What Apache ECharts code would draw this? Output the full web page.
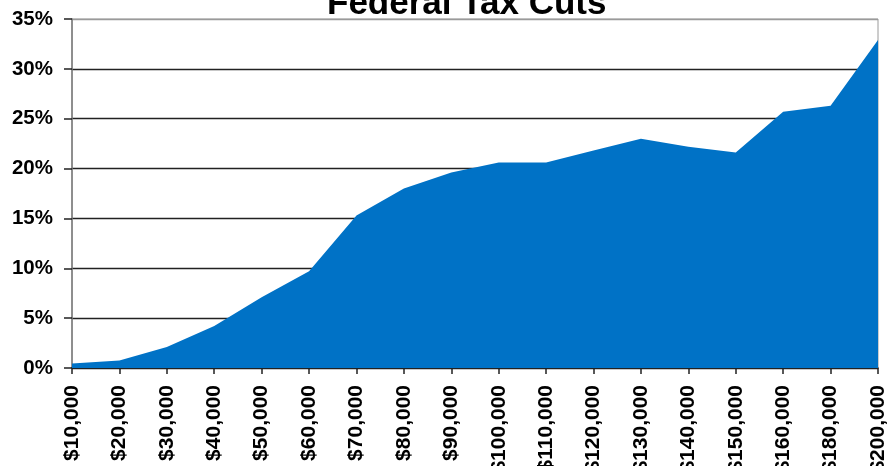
<!DOCTYPE html>
<html>
<head>
<meta charset="utf-8">
<script src="https://cdn.jsdelivr.net/npm/echarts@6/dist/echarts.min.js"></script>
<style>
  html, body { margin: 0; padding: 0; background: #fff; }
  #chart { width: 887px; height: 466px; }
</style>
</head>
<body>
<div id="chart"></div>
<script>
// Income brackets and the share of the federal tax cut going to each
const incomeLabels = ['$10,000', '$20,000', '$30,000', '$40,000', '$50,000', '$60,000',
  '$70,000', '$80,000', '$90,000', '$100,000', '$110,000', '$120,000', '$130,000',
  '$140,000', '$150,000', '$160,000', '$180,000', '$200,000'];
const taxCutPct = [0.45, 0.75, 2.1, 4.2, 7.1, 9.7, 15.3, 18.0, 19.6, 20.6, 20.6,
  21.8, 23.0, 22.2, 21.6, 25.7, 26.3, 32.9];
const pctTicks = { min: 0, max: 35, step: 5 };

const FONT = '"Liberation Sans", Arial, sans-serif';
const chart = echarts.init(document.getElementById('chart'), null, { renderer: 'canvas' });

chart.setOption({
  animation: false,
  backgroundColor: '#ffffff',
  title: {
    text: 'Federal Tax Cuts',
    left: 327,
    top: -13,
    padding: 0,
    textStyle: { fontFamily: FONT, fontSize: 35, fontWeight: 'bold', color: '#000' }
  },
  grid: {
    left: 72, right: 9, top: 19, bottom: 98,
    containLabel: false,
    outerBoundsMode: 'none',
    show: true, borderColor: '#9a9a9a', borderWidth: 1, backgroundColor: 'transparent'
  },
  xAxis: {
    type: 'category',
    data: incomeLabels,
    boundaryGap: false,
    axisLine: { show: true, lineStyle: { color: '#222', width: 1.5 } },
    axisTick: { show: true, length: 6, lineStyle: { color: '#222', width: 1.5 } },
    axisLabel: {
      interval: 0, rotate: 90, margin: 17,
      fontFamily: FONT, fontSize: 21, fontWeight: 'bold', color: '#000'
    },
    splitLine: { show: false }
  },
  yAxis: {
    type: 'value',
    min: pctTicks.min, max: pctTicks.max, interval: pctTicks.step,
    axisLine: { show: true, lineStyle: { color: '#7a7a7a', width: 1.5 } },
    axisTick: { show: true, length: 8, lineStyle: { color: '#222', width: 1.5 } },
    axisLabel: {
      margin: 19, formatter: '{value}%',
      fontFamily: FONT, fontSize: 20.5, fontWeight: 'bold', color: '#000'
    },
    splitLine: {
      show: true,
      lineStyle: {
        color: ['#222', '#222', '#222', '#222', '#222', '#222', '#222', '#9a9a9a'],
        width: 1.3
      }
    }
  },
  series: [{
    type: 'line',
    data: taxCutPct,
    showSymbol: false,
    symbol: 'none',
    lineStyle: { width: 0, color: '#0072c6' },
    itemStyle: { color: '#0072c6' },
    areaStyle: { color: '#0072c6', opacity: 1 },
    z: 1
  }]
});
</script>
</body>
</html>
